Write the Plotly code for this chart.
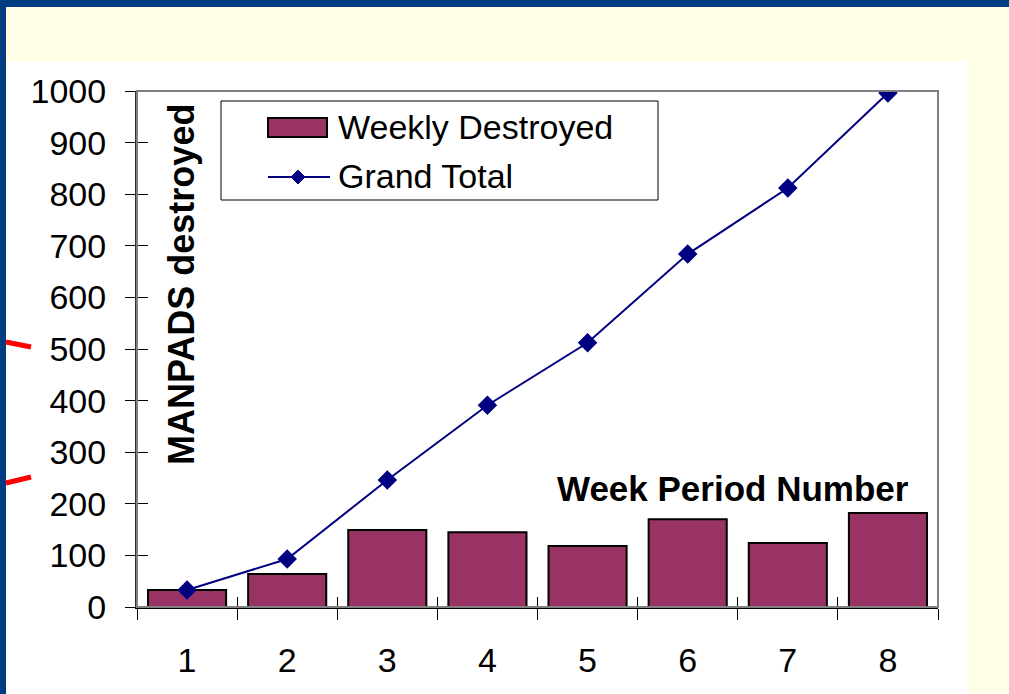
import plotly.graph_objects as go

weeks = ["1", "2", "3", "4", "5", "6", "7", "8"]
weekly_destroyed = [33, 64, 149, 145, 118, 170, 124, 182]
grand_total = [33, 93, 246, 391, 512, 684, 812, 996]
y_ticks = [0, 100, 200, 300, 400, 500, 600, 700, 800, 900, 1000]

W, H = 1009, 694
L, R, T, B = 137, 938, 91, 607  # plot area in pixels

def px(x):
    return (x - L) / (R - L)

def py(y):
    return (B - y) / (B - T)

FONT = "Liberation Sans, Arial, sans-serif"
BAR_COLOR = "#993366"
LINE_COLOR = "#000080"

fig = go.Figure()
fig.add_trace(go.Bar(x=weeks, y=weekly_destroyed, name="Weekly Destroyed",
                     width=0.78, marker=dict(color=BAR_COLOR, line=dict(color="black", width=2)),
                     showlegend=False))
fig.add_trace(go.Scatter(x=weeks, y=grand_total, name="Grand Total", mode="lines+markers",
                         line=dict(color=LINE_COLOR, width=2),
                         marker=dict(symbol="diamond", size=15, color=LINE_COLOR),
                         showlegend=False))

shapes = []
# white panel
shapes.append(dict(type="rect", xref="paper", yref="paper", layer="below",
                   x0=px(6), x1=px(968), y0=py(62), y1=py(700),
                   fillcolor="white", line=dict(width=0)))
# navy borders
shapes.append(dict(type="rect", xref="paper", yref="paper", layer="below",
                   x0=px(-5), x1=px(1015), y0=py(-5), y1=py(7),
                   fillcolor="#003C80", line=dict(width=0)))
shapes.append(dict(type="rect", xref="paper", yref="paper", layer="below",
                   x0=px(-5), x1=px(6), y0=py(-5), y1=py(700),
                   fillcolor="#003C80", line=dict(width=0)))
# red decorative lines
shapes.append(dict(type="line", xref="paper", yref="paper", layer="above",
                   x0=px(6), y0=py(342), x1=px(31), y1=py(347), line=dict(color="#FF0000", width=5)))
shapes.append(dict(type="line", xref="paper", yref="paper", layer="above",
                   x0=px(6), y0=py(483), x1=px(31), y1=py(477), line=dict(color="#FF0000", width=5)))
# plot frame (gray top/right)
shapes.append(dict(type="rect", xref="paper", yref="paper", layer="above",
                   x0=0, x1=1, y0=0, y1=1, line=dict(color="#808080", width=2)))
# legend box
shapes.append(dict(type="rect", xref="paper", yref="paper", layer="above",
                   x0=px(221), x1=px(658), y0=py(101), y1=py(200),
                   fillcolor="white", line=dict(color="black", width=1)))
# legend swatch bar
shapes.append(dict(type="rect", xref="paper", yref="paper", layer="above",
                   x0=px(268), x1=px(327), y0=py(118), y1=py(137),
                   fillcolor=BAR_COLOR, line=dict(color="black", width=2)))
# legend swatch line
shapes.append(dict(type="line", xref="paper", yref="paper", layer="above",
                   x0=px(268), x1=px(330), y0=py(177), y1=py(177),
                   line=dict(color=LINE_COLOR, width=2)))
cx, cy, d = 298, 177, 7
shapes.append(dict(type="path", xref="paper", yref="paper", layer="above",
                   path=f"M {px(cx)},{py(cy-d)} L {px(cx+d)},{py(cy)} L {px(cx)},{py(cy+d)} L {px(cx-d)},{py(cy)} Z",
                   fillcolor=LINE_COLOR, line=dict(color=LINE_COLOR, width=1)))

annotations = [
    dict(text="Weekly Destroyed", xref="paper", yref="paper", x=px(336), y=py(127),
         xanchor="left", yanchor="middle", showarrow=False, font=dict(family=FONT, size=34, color="black")),
    dict(text="Grand Total", xref="paper", yref="paper", x=px(336), y=py(176),
         xanchor="left", yanchor="middle", showarrow=False, font=dict(family=FONT, size=34, color="black")),
    dict(text="<b>MANPADS destroyed</b>", xref="paper", yref="paper", x=px(181), y=py(285),
         xanchor="center", yanchor="middle", textangle=-90, showarrow=False,
         font=dict(family=FONT, size=36, color="black")),
    dict(text="<b>Week Period Number</b>", xref="paper", yref="paper", x=px(733), y=py(488),
         xanchor="center", yanchor="middle", showarrow=False,
         font=dict(family=FONT, size=35, color="black")),
]

fig.update_layout(
    width=W, height=H,
    margin=dict(l=L, r=W - R, t=T, b=H - B, pad=0),
    paper_bgcolor="#FFFFE8",
    plot_bgcolor="#C0C0C0",
    font=dict(family=FONT, size=34, color="black"),
    shapes=shapes, annotations=annotations,
    xaxis=dict(type="category", categoryorder="array", categoryarray=weeks, tickson="boundaries",
               ticks="outside", ticklen=11, tickwidth=1, tickcolor="black",
               showline=True, linecolor="black", linewidth=2, showgrid=False, zeroline=False,
               ticklabelstandoff=22, tickfont=dict(size=34)),
    yaxis=dict(range=[0, 1000], tickvals=y_ticks, ticks="outside", ticklen=10, tickwidth=1,
               tickcolor="black", showline=True, linecolor="#303030", linewidth=2,
               showgrid=False, zeroline=False, ticklabelstandoff=12, tickfont=dict(size=34)),
    xaxis2=dict(type="category", categoryorder="array", categoryarray=weeks, tickson="boundaries",
                overlaying="x", matches="x", ticks="inside", ticklen=10, tickwidth=1, tickcolor="black",
                showticklabels=False, showgrid=False, zeroline=False, showline=False, anchor="y"),
    yaxis2=dict(range=[0, 1000], tickvals=y_ticks, overlaying="y", ticks="inside", ticklen=11,
                tickwidth=1, tickcolor="black", showticklabels=False, showgrid=False,
                zeroline=False, showline=False, anchor="x"),
)
# invisible trace to activate the overlay axes
fig.add_trace(go.Scatter(x=weeks, y=[None] * len(weeks), xaxis="x2", yaxis="y2",
                         showlegend=False, hoverinfo="skip"))

fig.write_html("out.html", config={"displayModeBar": False},
               post_script="document.body.style.margin='0';document.body.style.overflow='hidden';")
